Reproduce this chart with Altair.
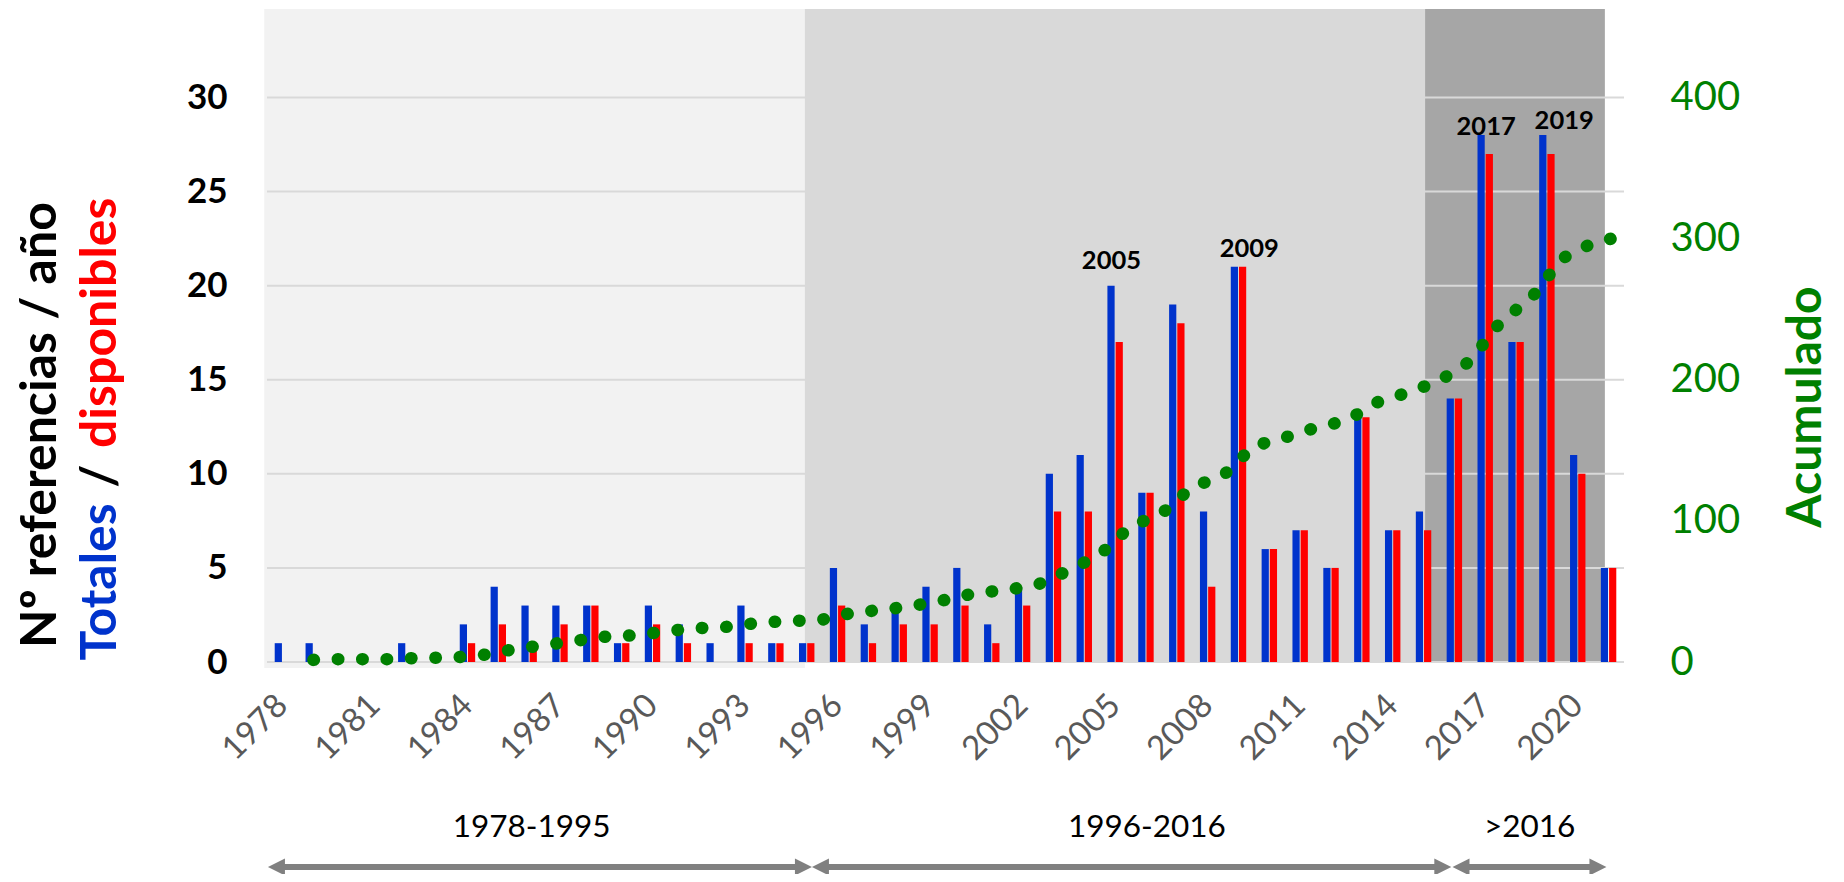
import altair as alt
import pandas as pd

# ---------------- data ----------------
years = list(range(1978, 2022))
totales = [1, 1, 0, 0, 1, 0, 2, 4, 3, 3,
           3, 1, 3, 2, 1, 3, 1, 1, 5, 2,
           3, 4, 5, 2, 4, 10, 11, 20, 9, 19,
           8, 21, 6, 7, 5, 13, 7, 8, 14, 28,
           17, 28, 11, 5]
disponibles = [0, 0, 0, 0, 0, 0, 1, 2, 1, 2,
               3, 1, 2, 1, 0, 1, 1, 1, 3, 1,
               2, 2, 3, 1, 3, 8, 8, 17, 9, 18,
               4, 21, 6, 7, 5, 13, 7, 7, 14, 27,
               17, 27, 10, 5]
acumulado = [1, 2, 2, 2, 3, 3, 5, 9, 12, 15,
             18, 19, 22, 24, 25, 28, 29, 30, 35, 37,
             40, 44, 49, 51, 55, 65, 76, 96, 105, 124,
             132, 153, 159, 166, 171, 184, 191, 199, 213, 241,
             258, 286, 297, 302]
label_years = list(range(1978, 2021, 3))
left_ticks = [0, 5, 10, 15, 20, 25, 30]
right_ticks = [0, 100, 200, 300, 400]

ann_text = ["2005", "2009", "2017", "2019"]
ann_x = [2004.88, 2009.35, 2017.03, 2019.56]
ann_y = [20.9, 21.5, 28.0, 28.3]

band_start = [1977.41, 1994.94, 2015.05]
band_end = [1994.94, 2015.05, 2020.88]
band_bottom = [-0.32, 0.0, 0.0]
band_color = ["#F2F2F2", "#D9D9D9", "#A6A6A6"]

period_labels = ["1978-1995", "1996-2016", ">2016"]
period_x = [1986.08, 2006.03, 2018.44]
arrow_from = [1977.53, 1995.17, 2015.94]
arrow_to = [1995.17, 2015.90, 2020.93]

# ---------------- style ----------------
BLUE = "#0033CC"
RED = "#FF0000"
GREEN = "#008000"
GRAY = "#808080"
FONT = "Lato"
W, H = 1357, 653
Y_MAX = 34.7
Y2_MAX = Y_MAX * 400 / 30

Xq = alt.Scale(domain=[1977.5, 2021.5], nice=False, zero=False)
Yl = alt.Scale(domain=[0, Y_MAX], nice=False, zero=False)

# ---------------- layers ----------------
bg = alt.Chart(pd.DataFrame({"x0": band_start, "x1": band_end, "y0": band_bottom,
                             "y1": [Y_MAX] * 3, "c": band_color})).mark_rect().encode(
    x=alt.X("x0:Q", scale=Xq, axis=None), x2="x1:Q",
    y=alt.Y("y0:Q", scale=Yl, axis=None), y2="y1:Q",
    color=alt.Color("c:N", scale=None, legend=None))

grid = alt.Chart(pd.DataFrame({"v": left_ticks})).mark_rule(color="#D9D9D9", strokeWidth=2).encode(
    y=alt.Y("v:Q", scale=Yl, axis=None), x=alt.value(0), x2=alt.value(W))

df_long = pd.concat([
    pd.DataFrame({"year": years, "serie": "Totales", "value": totales}),
    pd.DataFrame({"year": years, "serie": "Disponibles", "value": disponibles}),
])

bars = alt.Chart(df_long).mark_bar().encode(
    x=alt.X("year:O", scale=alt.Scale(paddingInner=0.5, paddingOuter=0.25),
            axis=alt.Axis(values=label_years, labelAngle=-45, labelAlign="right",
                          labelBaseline="middle", labelFontSize=33, labelFont=FONT,
                          labelColor="#595959", labelPadding=38, ticks=False, domain=False,
                          grid=False, title=None, labelOverlap=False)),
    xOffset=alt.XOffset("serie:N", sort=["Totales", "Disponibles"],
                        scale=alt.Scale(paddingInner=0.12)),
    y=alt.Y("value:Q", scale=Yl,
            axis=alt.Axis(values=left_ticks, labelFontSize=35, labelFont=FONT,
                          labelFontWeight="bold", labelColor="black", ticks=False,
                          domain=False, grid=False, labelPadding=40, title=None)),
    color=alt.Color("serie:N", scale=alt.Scale(domain=["Totales", "Disponibles"],
                                               range=[BLUE, RED]), legend=None))

line = alt.Chart(pd.DataFrame({"year": years, "acumulado": acumulado})).transform_calculate(
    pos="datum.year + 0.5").mark_line(
    color=GREEN, strokeWidth=12.5, strokeCap="round", strokeDash=[0.5, 23.9],
    strokeDashOffset=8.8).encode(
    x=alt.X("pos:Q", scale=Xq, axis=None),
    y=alt.Y("acumulado:Q", scale=alt.Scale(domain=[0, Y2_MAX], nice=False, zero=False),
            axis=alt.Axis(orient="right", values=right_ticks, labelFontSize=40,
                          labelFont=FONT, labelColor=GREEN, ticks=False, domain=False,
                          grid=False, labelPadding=46, labelAlign="left", title=None)))

ann = alt.Chart(pd.DataFrame({"t": ann_text, "x": ann_x, "y": ann_y})).mark_text(
    font=FONT, fontWeight="bold", fontSize=25.5, color="black",
    baseline="alphabetic", align="center").encode(
    x=alt.X("x:Q", scale=Xq, axis=None), y=alt.Y("y:Q", scale=Yl, axis=None), text="t:N")

periods = alt.Chart(pd.DataFrame({"t": period_labels, "x": period_x})).mark_text(
    font=FONT, fontSize=31.5, color="black", baseline="middle", align="center").encode(
    x=alt.X("x:Q", scale=Xq, axis=None), y=alt.value(819), text="t:N")

df_arrow = pd.DataFrame({"a0": arrow_from, "a1": arrow_to})
shaft = alt.Chart(df_arrow).transform_calculate(
    s0="datum.a0 + 0.3", s1="datum.a1 - 0.3").mark_rule(color=GRAY, strokeWidth=6).encode(
    x=alt.X("s0:Q", scale=Xq, axis=None), x2="s1:Q", y=alt.value(858))
head_l = alt.Chart(df_arrow).mark_point(shape="M0,0L1,-0.5L1,0.5Z", filled=True, size=1156,
                                        color=GRAY, opacity=1, strokeWidth=0).encode(
    x=alt.X("a0:Q", scale=Xq, axis=None), y=alt.value(858))
head_r = alt.Chart(df_arrow).mark_point(shape="M0,0L-1,-0.5L-1,0.5Z", filled=True, size=1156,
                                        color=GRAY, opacity=1, strokeWidth=0).encode(
    x=alt.X("a1:Q", scale=Xq, axis=None), y=alt.value(858))

one = alt.Data(values=[{}])
t1 = alt.Chart(one).mark_text(text="Nº referencias / año", angle=270, font=FONT,
                              fontWeight="bold", fontSize=50, color="black",
                              align="center", baseline="middle").encode(
    x=alt.value(-226), y=alt.value(416))
t2a = alt.Chart(one).mark_text(text="Totales", angle=270, font=FONT, fontWeight="bold",
                               fontSize=50, color=BLUE, align="left", baseline="middle").encode(
    x=alt.value(-166), y=alt.value(651.5))
t2b = alt.Chart(one).mark_text(text="/", angle=270, font=FONT, fontWeight="bold",
                               fontSize=50, color="black", align="center", baseline="middle").encode(
    x=alt.value(-166), y=alt.value(467))
t2c = alt.Chart(one).mark_text(text="disponibles", angle=270, font=FONT, fontWeight="bold",
                               fontSize=50, color=RED, align="right", baseline="middle").encode(
    x=alt.value(-166), y=alt.value(188.5))
t3 = alt.Chart(one).mark_text(text="Acumulado", angle=270, font=FONT, fontWeight="bold",
                              fontSize=48, color=GREEN, align="center", baseline="middle").encode(
    x=alt.value(1540), y=alt.value(398))

chart = alt.layer(bg, grid, bars, line, ann, periods, shaft, head_l, head_r,
                  t1, t2a, t2b, t2c, t3).resolve_scale(
    x="independent", y="independent", color="independent").properties(
    width=W, height=H,
    padding={"left": 259, "top": 1, "right": 212, "bottom": 212},
    autosize=alt.AutoSizeParams(type="none"),
    background="white").configure_view(stroke=None)

chart.save("out.html", embed_options={"renderer": "svg", "actions": False})
